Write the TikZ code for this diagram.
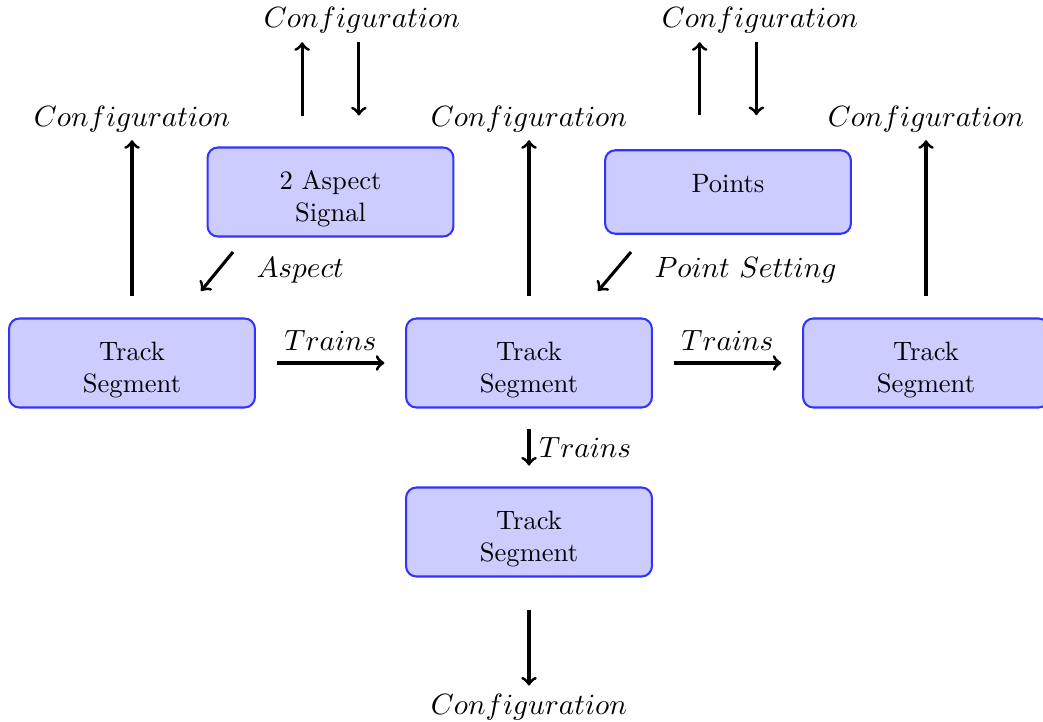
\RequirePackage{fix-cm}
\documentclass[tikz,border=0pt]{standalone}
\newcommand\boxtop{\rule{0pt}{12.65pt}}
\begin{document}
\begin{tikzpicture}[x=0.3876pt, y=-0.3876pt,
  block/.style={draw=blue!80, fill=blue!20, thick, rounded corners,
    align=center, minimum width=95.3pt, inner xsep=4pt, inner ysep=3.66pt,
    font=\fontsize{10.3}{12.4}\selectfont},
  lbl/.style={inner sep=0pt, font=\fontsize{11.35}{14}\selectfont},
  flow/.style={->, very thick}]
\useasboundingbox (0,0) rectangle (1043,722);

% blocks
\node[block] (sig) at (330.5,192) {\boxtop 2 Aspect\\Signal};
\node[block] (pts) at (728,192) {\boxtop Points\\\mbox{}};
\node[block] (ts1) at (132,363) {\boxtop Track\\Segment};
\node[block] (ts2) at (529,363) {\boxtop Track\\Segment};
\node[block] (ts3) at (926,363) {\boxtop Track\\Segment};
\node[block] (ts4) at (529,532) {\boxtop Track\\Segment};

% configuration labels
\node[lbl, anchor=base] (cfgS) at (362,28) {$Configuration$};
\node[lbl, anchor=base] (cfgP) at (760,28) {$Configuration$};
\node[lbl, anchor=base] (cfgA) at (132,127) {$Configuration$};
\node[lbl, anchor=base] (cfgB) at (529,127) {$Configuration$};
\node[lbl, anchor=base] (cfgC) at (926,127) {$Configuration$};
\node[lbl, anchor=base] (cfgD) at (529,715) {$Configuration$};

% signal and points configuration
\draw[flow, shorten <=12pt, shorten >=3.1pt] ([xshift=-11pt]sig.north) -- ([xshift=-11pt]sig.north |- cfgS.south);
\draw[flow, shorten <=3.1pt, shorten >=12pt] ([xshift=11pt]sig.north |- cfgS.south) -- ([xshift=11pt]sig.north);
\draw[flow, shorten <=13.2pt, shorten >=3.1pt] ([xshift=-11pt]pts.north) -- ([xshift=-11pt]pts.north |- cfgP.south);
\draw[flow, shorten <=3.1pt, shorten >=13.2pt] ([xshift=11pt]pts.north |- cfgP.south) -- ([xshift=11pt]pts.north);

% track segment configuration
\draw[flow, shorten <=8.5pt, shorten >=2.7pt] (ts1) -- (cfgA);
\draw[flow, shorten <=8.5pt, shorten >=2.7pt] (ts2) -- (cfgB);
\draw[flow, shorten <=8.5pt, shorten >=2.7pt] (ts3) -- (cfgC);
\draw[flow, shorten <=12.4pt, shorten >=3.3pt] (ts4) -- (cfgD);

% aspect and point setting
\coordinate (aspS) at (233,252);
\coordinate (aspE) at (201,291);
\draw[flow] (aspS) -- (aspE);
\node[lbl, anchor=base west] (aspL) at (256,278) {$Aspect$};
\coordinate (setS) at (631,252);
\coordinate (setE) at (598,291);
\draw[flow] (setS) -- (setE);
\node[lbl, anchor=base west] (setL) at (654,278) {$Point\ Setting$};

% trains
\draw[flow, shorten <=8pt, shorten >=8pt] (ts1) -- (ts2)
  node[midway, above=1pt, lbl, inner sep=0.333em] (trA) {$Trains$};
\draw[flow, shorten <=8pt, shorten >=8pt] (ts2) -- (ts3)
  node[midway, above=1pt, lbl, inner sep=0.333em] (trB) {$Trains$};
\draw[flow, shorten <=8.1pt, shorten >=8.1pt] (ts2) -- (ts4)
  node[midway, right, lbl, inner sep=0.333em] (trC) {$Trains$};
\end{tikzpicture}
\end{document}
